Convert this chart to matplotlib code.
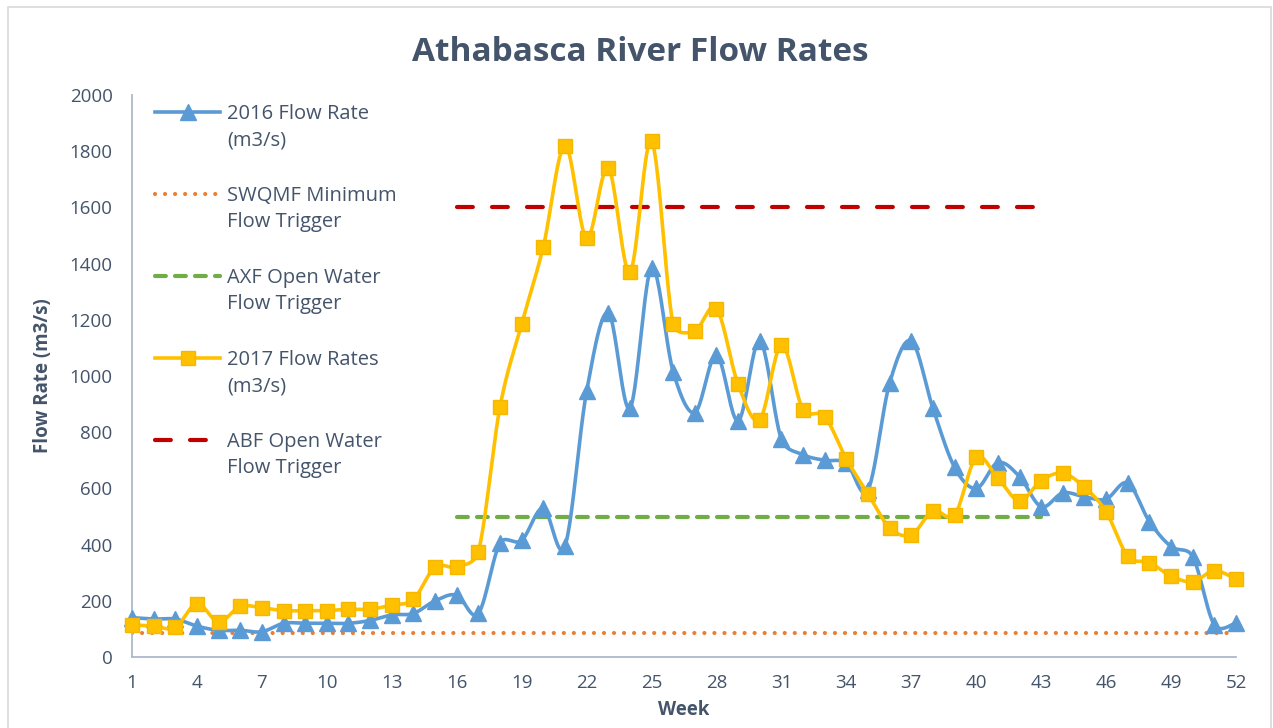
import numpy as np
import matplotlib
matplotlib.use('Agg')
import matplotlib.pyplot as plt
from matplotlib.patches import Rectangle

weeks = np.arange(1, 53)

flow_2016 = [140, 135, 135, 110, 95, 95, 90, 120, 120, 120,
             120, 130, 150, 155, 200, 220, 155, 405, 415, 530,
             395, 945, 1225, 885, 1385, 1015, 870, 1075, 840, 1125,
             775, 720, 700, 690, 595, 975, 1125, 885, 675, 600,
             692, 642, 535, 584, 570, 562, 619, 482, 393, 357,
             114, 121]

flow_2017 = [115, 110, 105, 190, 125, 180, 175, 165, 165, 165,
             170, 170, 185, 205, 320, 320, 375, 890, 1185, 1460,
             1820, 1490, 1740, 1370, 1835, 1185, 1160, 1240, 970, 845,
             1110, 880, 855, 705, 580, 460, 435, 520, 505, 710,
             636, 556, 628, 654, 604, 517, 359, 336, 288, 268,
             307, 277]

swqmf_min = 85
axf_open = 500
abf_open = 1600
trigger_weeks = [16, 43]

legend_labels = ['2016 Flow Rate\n(m3/s)', 'SWQMF Minimum\nFlow Trigger',
                 'AXF Open Water\nFlow Trigger', '2017 Flow Rates\n(m3/s)',
                 'ABF Open Water\nFlow Trigger']

TEXT = '#44546A'
BLUE = '#5B9BD5'
GOLD = '#FFC000'
plt.rcParams['font.family'] = ['Open Sans', 'DejaVu Sans']


def smooth(x, y, n=24, yscale=0.013, limit=0.5):
    # cubic Bezier through every point; control arms come from the
    # neighbours and are capped so a short segment does not overshoot
    p = np.column_stack([np.asarray(x, float), np.asarray(y, float) * yscale])
    p_ext = np.vstack([p[0], p, p[-1]])
    out = [p[:1]]
    t = np.linspace(0, 1, n)[1:, None]
    for i in range(len(p) - 1):
        p0, p1, p2, p3 = p_ext[i], p_ext[i + 1], p_ext[i + 2], p_ext[i + 3]
        seg = np.hypot(*(p2 - p1))
        a1 = (p2 - p0) / 6
        a2 = (p3 - p1) / 6
        for a in (a1, a2):
            n_a = np.hypot(*a)
            if n_a > limit * seg:
                a *= limit * seg / n_a
        c1 = p1 + a1
        c2 = p2 - a2
        curve = ((1 - t) ** 3 * p1 + 3 * (1 - t) ** 2 * t * c1
                 + 3 * (1 - t) * t ** 2 * c2 + t ** 3 * p2)
        out.append(curve)
    out = np.vstack(out)
    return out[:, 0], out[:, 1] / yscale


fig = plt.figure(figsize=(12.73, 7.28), dpi=100)
ax = fig.add_axes([132 / 1273, 71 / 728, 1104 / 1273, 562 / 728])

fig.patches.append(Rectangle((8 / 1273, -0.05), 1263 / 1273, 1.05 - 7 / 728,
                             transform=fig.transFigure, fill=False,
                             edgecolor='#D9D9D9', linewidth=1.2))

# line styles, reused for the legend keys below
s16 = dict(color=BLUE, lw=2.6, marker='^', ms=11, markeredgecolor=BLUE)
s17 = dict(color=GOLD, lw=2.6, marker='s', ms=10, markeredgecolor='#F5B800')
s_sw = dict(color='#ED7D31', lw=3, dashes=(0.01, 2.4), dash_capstyle='round')
s_axf = dict(color='#70AD47', lw=3, dashes=(2.6, 2.2), dash_capstyle='round')
s_abf = dict(color='#C00000', lw=3, dashes=(3.8, 4.6), dash_capstyle='round')

sx, sy = smooth(weeks, flow_2016)
ax.plot(sx, sy, color=BLUE, lw=2.6, zorder=3, solid_capstyle='round')
ax.plot(weeks, flow_2016, ls='none', marker='^', ms=11, color=BLUE,
        zorder=4, clip_on=False)

ax.plot([weeks[0], weeks[-1]], [swqmf_min, swqmf_min], zorder=2, **s_sw)
ax.plot(trigger_weeks, [axf_open, axf_open], zorder=2, **s_axf)

sx, sy = smooth(weeks, flow_2017)
ax.plot(sx, sy, color=GOLD, lw=2.6, zorder=5, solid_capstyle='round')
ax.plot(weeks, flow_2017, ls='none', marker='s', ms=10, color=GOLD,
        markeredgecolor='#F5B800', zorder=6, clip_on=False)

ax.plot(trigger_weeks, [abf_open, abf_open], zorder=2, **s_abf)

ax.set_xlim(1, 52)
ax.set_ylim(0, 2000)
ax.set_xticks(np.arange(1, 53, 3))
ax.set_yticks(np.arange(0, 2001, 200))
ax.tick_params(length=0, labelsize=13.5, colors=TEXT)
ax.tick_params(axis='y', pad=14)
ax.tick_params(axis='x', pad=12)
for side in ('top', 'right'):
    ax.spines[side].set_visible(False)
for side in ('left', 'bottom'):
    ax.spines[side].set_color('#ADB9CA')
    ax.spines[side].set_linewidth(1.3)

ax.set_xlabel('Week', fontsize=13.5, fontweight='bold', color=TEXT, labelpad=6)
ax.set_ylabel('Flow Rate (m3/s)', fontsize=13.5, fontweight='bold', color=TEXT,
              labelpad=12)
fig.text(0.503, 0.928, 'Athabasca River Flow Rates', ha='center', va='center',
         fontsize=24, fontweight='bold', color=TEXT)

# legend keys sit level with the first line of each two-line label
W, H = 1104.0, 562.0
styles = [s16, s_sw, s_axf, s17, s_abf]
key_len = [65, 65, 65, 65, 53]
for i, (lab, st) in enumerate(zip(legend_labels, styles)):
    y = 1 - (17 + 82 * i) / H
    x0 = 23 / W
    x1 = (23 + key_len[i]) / W
    st = dict(st)
    marker = st.pop('marker', None)
    ms = st.pop('ms', None)
    mec = st.pop('markeredgecolor', None)
    ax.plot([x0, x1], [y, y], transform=ax.transAxes, clip_on=False, **st)
    if marker:
        ax.plot([(x0 + x1) / 2], [y], transform=ax.transAxes, clip_on=False,
                ls='none', marker=marker, ms=ms, color=st['color'],
                markeredgecolor=mec)
    ax.text(95 / W, y - 15 / H, lab, transform=ax.transAxes, ha='left',
            va='center', fontsize=14.5, color=TEXT, linespacing=1.45)

fig.savefig('out.png', dpi=100)
